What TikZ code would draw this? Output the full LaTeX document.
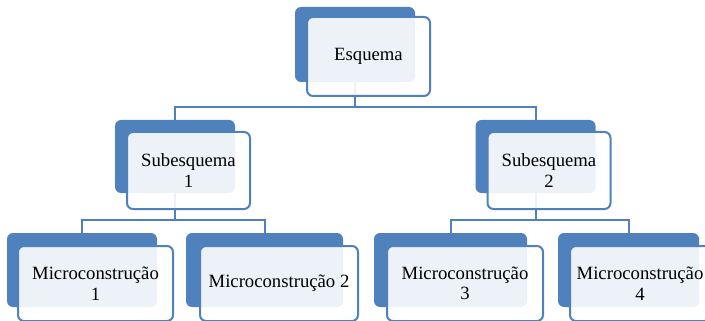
\documentclass[tikz,border=0pt]{standalone}
\usepackage{fontspec}
\setmainfont{Liberation Serif}
\usepackage{tikz}
\usetikzlibrary{positioning, backgrounds, calc}
\definecolor{officeblue}{HTML}{4F81BD}

\begin{document}
\begin{tikzpicture}[x=1pt, y=-1pt,
    backbox/.style={fill=officeblue, rounded corners=6pt, inner sep=0pt},
    frontbox/.style={draw=officeblue, line width=2pt, fill=white, fill opacity=0.9, text opacity=1, rounded corners=6pt, inner sep=0pt, align=center, font=\fontsize{18.7}{20.5}\selectfont},
    link/.style={draw=officeblue, line width=2pt}]
  \useasboundingbox (0,0) rectangle (705,321);
  \clip (0,0) rectangle (705,321);
  % top level
  \node[backbox, minimum width=120pt, minimum height=75pt] (esqB) at (355,44.5) {};
  \node[frontbox, minimum width=123pt, minimum height=79pt] (esq) at (368.5,56.5) {Esquema};
  % second level
  \node[backbox, minimum width=120pt, minimum height=73pt] (sub1B) at (175,156.5) {};
  \node[frontbox, minimum width=123pt, minimum height=77pt] (sub1) at (188.5,170.5) {Subesquema\\1};
  \node[backbox, minimum width=120pt, minimum height=73pt] (sub2B) at (535.5,156.5) {};
  \node[frontbox, minimum width=123pt, minimum height=77pt] (sub2) at (549,170.5) {Subesquema\\2};
  % third level
  \node[backbox, minimum width=150pt, minimum height=74pt] (mic1B) at (82,270) {};
  \node[frontbox, minimum width=155pt, minimum height=75pt] (mic1) at (95.5,283.5) {Microconstrução\\1};
  \node[backbox, minimum width=157pt, minimum height=74pt] (mic2B) at (264.5,270) {};
  \node[frontbox, minimum width=158pt, minimum height=75pt] (mic2) at (279,283.5) {Microconstrução 2};
  \node[backbox, minimum width=153pt, minimum height=74pt] (mic3B) at (450.5,270) {};
  \node[frontbox, minimum width=156pt, minimum height=75pt] (mic3) at (465,283.5) {Microconstrução\\3};
  \node[backbox, minimum width=141pt, minimum height=74pt] (mic4B) at (628.5,270) {};
  \node[frontbox, minimum width=140pt, minimum height=75pt] (mic4) at (640,283.5) {Microconstrução\\4};

  \begin{scope}[on background layer]
    \draw[link] (esqB.south) -- ++(0,25) coordinate (top);
    \draw[link] (top) -| (sub1B.north);
    \draw[link] (top) -| (sub2B.north);
    \draw[link] (sub1B.south) -- ++(0,27) coordinate (left);
    \draw[link] (left) -| (mic1B.north);
    \draw[link] (left) -| (mic2B.north);
    \draw[link] (sub2B.south) -- ++(0,27) coordinate (right);
    \draw[link] (right) -| (mic3B.north);
    \draw[link] (right) -| (mic4B.north);
  \end{scope}
\end{tikzpicture}
\end{document}
